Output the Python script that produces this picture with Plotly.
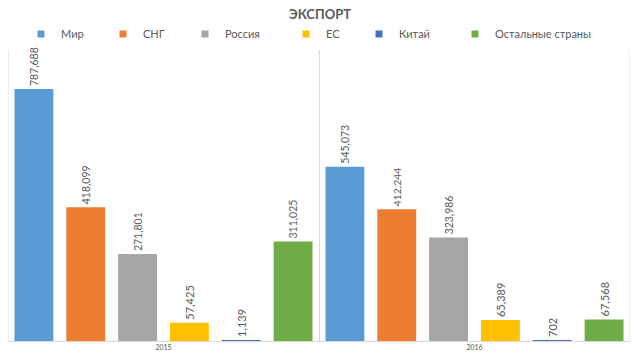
import plotly.graph_objects as go

years = ["2015", "2016"]
series_names = ["Мир", "СНГ", "Россия", "ЕС", "Китай", "Остальные страны"]
mir = [787688, 545073]
sng = [418099, 412244]
russia = [271801, 323986]
es = [57425, 65389]
china = [1139, 702]
others = [311025, 67568]

series_values = [mir, sng, russia, es, china, others]
colors = ["#5B9BD5", "#ED7D31", "#A5A5A5", "#FFC000", "#4472C4", "#70AD47"]
# legend swatch positions (px from left of the picture)
legend_swatch_px = [53, 135, 217, 318, 391, 487]

fig = go.Figure()
for name, vals, col in zip(series_names, series_values, colors):
    fig.add_trace(go.Bar(
        x=years, y=vals, name=name, marker=dict(color=col, line=dict(width=0)),
        texttemplate="%{y:,}", textposition="outside", textangle=-90,
        textfont=dict(size=11, color="#595959", family="Lato"),
        cliponaxis=False, showlegend=False,
    ))

legend_layouts = {}
for i, (name, col, px) in enumerate(zip(series_names, colors, legend_swatch_px)):
    key = "legend" if i == 0 else f"legend{i + 1}"
    fig.add_trace(go.Scatter(
        x=[None], y=[None], name=name, mode="markers", legend=key,
        marker=dict(symbol="square", size=7, color=col), showlegend=True,
    ))
    legend_layouts[key] = dict(
        orientation="h", x=(px - 32) / 638, xanchor="left", xref="container",
        y=1 - 34 / 359, yanchor="middle", yref="container",
        font=dict(size=11, color="#595959", family="Lato"),
        itemwidth=30, bgcolor="rgba(0,0,0,0)",
    )

fig.update_layout(
    width=638, height=359,
    margin=dict(l=8, r=8, t=50, b=18, autoexpand=False),
    paper_bgcolor="white", plot_bgcolor="white",
    barmode="group", bargap=0.0, bargroupgap=0.25,
    font=dict(family="Lato", color="#595959"),
    title=dict(text="ЭКСПОРТ", x=320/638, xanchor="center", xref="container",
               y=1 - 14/359, yanchor="middle", yref="container",
               font=dict(size=13, color="#595959", family="Lato", weight="bold")),
    showlegend=True,
    **legend_layouts,
)
fig.update_xaxes(
    type="category", range=[-0.5, 1.5], tickson="boundaries", showgrid=True,
    gridcolor="#D9D9D9", gridwidth=1, automargin=False,
    showline=True, linecolor="#D9D9D9", ticks="", tickfont=dict(size=7, color="#595959"),
)
fig.update_yaxes(range=[0, 910000], showticklabels=False, showgrid=False, zeroline=False,
                 showline=False, ticks="", automargin=False)
for xb in [-0.5, 1.5]:
    fig.add_shape(type="line", xref="x", yref="paper", x0=xb, x1=xb, y0=0, y1=1,
                  line=dict(color="#D9D9D9", width=1), layer="below")

fig.write_html("out.html", config={"displayModeBar": False},
               post_script="document.body.style.margin='0';document.body.style.overflow='hidden';")
